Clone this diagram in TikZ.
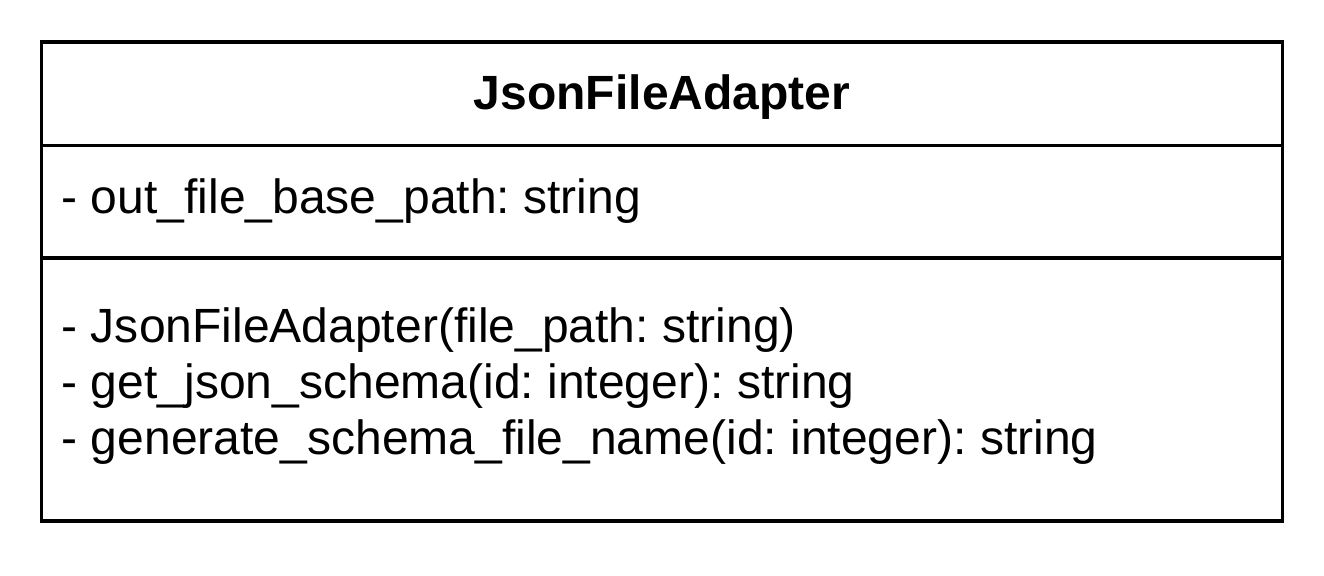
\documentclass[tikz,border=0pt]{standalone}
\usepackage{fontspec}
\setmainfont{Liberation Sans}
\usepackage{tikz}
\frenchspacing

\begin{document}
\begin{tikzpicture}[x=0.01cm, y=0.01cm, line width=0.95pt,
    member/.style={anchor=west, inner sep=0pt, align=left, font=\fontsize{13.66pt}{15.9pt}\selectfont}]
\useasboundingbox (0,0) rectangle (1324,576);
\node[draw, minimum width=12.4cm, minimum height=4.79cm, inner sep=0pt] (jfa) at (662,294.5) {};
\node[inner sep=0pt, font=\fontsize{13.66pt}{15.7pt}\selectfont\bfseries] (title) at (662,479) {JsonFileAdapter};
\coordinate (d1w) at (42,430.5);
\coordinate (d1e) at (1282,430.5);
\coordinate (d2w) at (42,318);
\coordinate (d2e) at (1282,318);
\draw (d1w) -- (d1e);
\draw (d2w) -- (d2e);
\node[member] (attr) at (60,375) {- out\_file\_base\_path: string};
\node[member] (ops) at (60,190) {- JsonFileAdapter(file\_path: string)\\
- get\_json\_schema(id: integer): string\\
- generate\_schema\_file\_name(id: integer): string};
\end{tikzpicture}
\end{document}
